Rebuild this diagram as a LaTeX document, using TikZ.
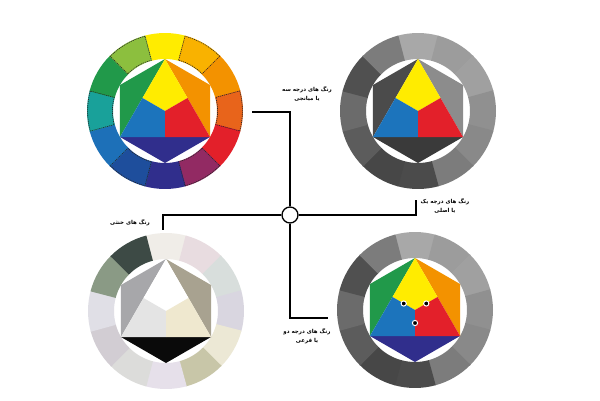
\documentclass[tikz,border=0pt]{standalone}
\usepackage{fontspec}
\newfontfamily\fa[Script=Arabic]{DejaVu Sans}
\TeXXeTstate=1
% wheel colours
\definecolor{cY}{HTML}{FFEC00}
\definecolor{cYO}{HTML}{F9B200}
\definecolor{cO}{HTML}{F39200}
\definecolor{cRO}{HTML}{E8641B}
\definecolor{cR}{HTML}{E3202A}
\definecolor{cRV}{HTML}{922A63}
\definecolor{cV}{HTML}{302E8C}
\definecolor{cBV}{HTML}{1E4E9C}
\definecolor{cB}{HTML}{1D70B8}
\definecolor{cBG}{HTML}{19A19A}
\definecolor{cG}{HTML}{21994A}
\definecolor{cYG}{HTML}{8CBF3E}
\definecolor{cHB}{HTML}{1C74BC}
% greys
\definecolor{g1}{HTML}{A8A8A8}
\definecolor{g2}{HTML}{9C9C9C}
\definecolor{g3}{HTML}{A0A0A0}
\definecolor{g4}{HTML}{909090}
\definecolor{g5}{HTML}{898989}
\definecolor{g6}{HTML}{7C7C7C}
\definecolor{g7}{HTML}{4B4B4B}
\definecolor{g8}{HTML}{474747}
\definecolor{g9}{HTML}{5C5C5C}
\definecolor{g10}{HTML}{6B6B6B}
\definecolor{g11}{HTML}{505050}
\definecolor{g12}{HTML}{7C7C7C}
\definecolor{hL}{HTML}{4B4B4B}
\definecolor{hR}{HTML}{8C8C8C}
\definecolor{hB}{HTML}{3A3A3A}
% neutrals
\definecolor{n1}{HTML}{F0EDE8}
\definecolor{n2}{HTML}{E8DCE0}
\definecolor{n3}{HTML}{D8DEDC}
\definecolor{n4}{HTML}{D9D6E0}
\definecolor{n5}{HTML}{ECE8D5}
\definecolor{n6}{HTML}{C8C6A8}
\definecolor{n7}{HTML}{E6E0EA}
\definecolor{n8}{HTML}{DCDCDA}
\definecolor{n9}{HTML}{D2CDD3}
\definecolor{n10}{HTML}{E0DFE6}
\definecolor{n11}{HTML}{8A9A85}
\definecolor{n12}{HTML}{3D4A45}
\definecolor{nL}{HTML}{A7A7AA}
\definecolor{nR}{HTML}{A8A290}
\definecolor{nB}{HTML}{0A0A0A}
\definecolor{nT}{HTML}{FFFFFF}
\definecolor{nBL}{HTML}{E4E4E4}
\definecolor{nBR}{HTML}{EFE8CF}

\newcommand\wheelring[3]{%
 \begin{scope}[shift={(#1,#2)}]
 \foreach \c [count=\i from 0] in {#3} {
   \pgfmathsetmacro\sa{90-30*\i-15.4}
   \pgfmathsetmacro\ea{90-30*\i+15.4}
   \fill[\c] (\sa:78) arc[start angle=\sa, end angle=\ea, radius=78]
      -- (\ea:52) arc[start angle=\ea, end angle=\sa, radius=52] -- cycle;
 }
 \end{scope}}
\newcommand\wheeldots[2]{%
 \begin{scope}[shift={(#1,#2)}]
 \foreach \i in {1,3,5,7,9,11} {
   \pgfmathsetmacro\sa{90-30*\i-15}
   \pgfmathsetmacro\ea{90-30*\i+15}
   \draw[black!85, line width=0.6pt, dash pattern=on 1.1pt off 0.9pt]
      (\sa:77.4) arc[start angle=\sa, end angle=\ea, radius=77.4]
      -- (\ea:52.6) arc[start angle=\ea, end angle=\sa, radius=52.6] -- cycle;
 }
 \end{scope}}
\newcommand\wheelhex[8]{%
 \begin{scope}[shift={(#1,#2)}]
  \fill[#3] (0,52) -- (-45.03,26) -- (-45.03,-26) -- cycle;
  \fill[#4] (0,52) -- (45.03,26) -- (45.03,-26) -- cycle;
  \fill[#5] (-45.03,-26) -- (0,-52) -- (45.03,-26) -- cycle;
  \fill[#6] (0,52) -- (22.52,13) -- (0,0) -- (-22.52,13) -- cycle;
  \fill[#7] (-22.52,13) -- (0,0) -- (0,-26) -- (-45.03,-26) -- cycle;
  \fill[#8] (22.52,13) -- (45.03,-26) -- (0,-26) -- (0,0) -- cycle;
 \end{scope}}

\tikzset{
  conn/.style={draw=black, line width=1.3pt},
  hubnode/.style={circle, draw=black, line width=1.3pt, fill=white, minimum size=16pt, inner sep=0pt},
  lab/.style={font=\fa\bfseries\fontsize{5.5}{9}\selectfont, align=center, inner sep=0pt, text=black},
  mark dot/.style={fill=black, draw=white, line width=1pt}
}

\begin{document}
\begin{tikzpicture}[x=1pt,y=1pt]
\useasboundingbox (0,0) rectangle (600,400);
\fill[white] (0,0) rectangle (600,400);

% top-left: full colour wheel
\wheelring{165}{289}{cY,cYO,cO,cRO,cR,cRV,cV,cBV,cB,cBG,cG,cYG}
\wheeldots{165}{289}
\wheelhex{165}{289}{cG}{cO}{cV}{cY}{cHB}{cR}

% top-right: primaries
\wheelring{418}{289}{g1,g2,g3,g4,g5,g6,g7,g8,g9,g10,g11,g12}
\wheelhex{418}{289}{hL}{hR}{hB}{cY}{cHB}{cR}

% bottom-left: neutrals
\wheelring{166}{89}{n1,n2,n3,n4,n5,n6,n7,n8,n9,n10,n11,n12}
\wheelhex{166}{89}{nL}{nR}{nB}{nT}{nBL}{nBR}

% bottom-right: secondaries
\wheelring{415}{90}{g1,g2,g3,g4,g5,g6,g7,g8,g9,g10,g11,g12}
\wheelhex{415}{90}{cG}{cO}{cV}{cY}{cHB}{cR}
\foreach \p in {(403.74,96.5),(426.26,96.5),(415,77)}
  \filldraw[mark dot] \p circle (2.6);

% labels
\node[lab] (ltl) at (307,306) {\beginR رنگ های درجه سه\endR\\\beginR یا میانجی\endR};
\node[lab] (ltr) at (445,194) {\beginR رنگ های درجه یک\endR\\\beginR یا اصلی\endR};
\node[lab] (lbl) at (130,177) {\beginR رنگ های خنثی\endR};
\node[lab] (lbr) at (307,64) {\beginR رنگ های درجه دو\endR\\\beginR یا فرعی\endR};

% connectors
\node[hubnode] (hub) at (290,185) {};
\coordinate (ctA) at (252,288);
\coordinate (ctB) at (290,288);
\coordinate (crA) at (416,185);
\coordinate (crB) at (416,200);
\coordinate (clA) at (163,185);
\coordinate (clB) at (163,170);
\coordinate (cbA) at (290,82);
\coordinate (cbB) at (328,82);
\draw[conn] (hub.north) -- (ctB) -- (ctA);
\draw[conn] (hub.east) -- (crA) -- (crB);
\draw[conn] (hub.west) -- (clA) -- (clB);
\draw[conn] (hub.south) -- (cbA) -- (cbB);
\end{tikzpicture}
\end{document}
